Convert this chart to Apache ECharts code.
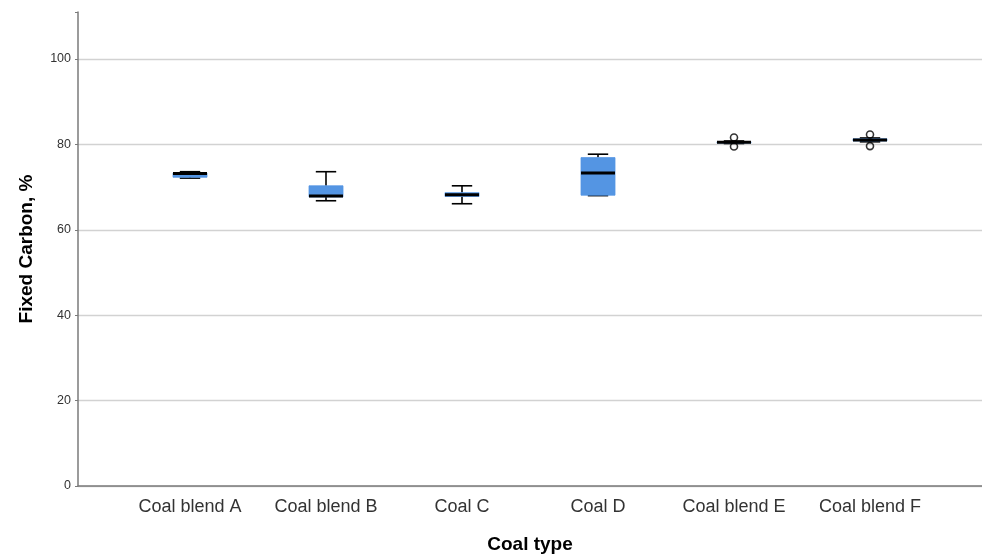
<!DOCTYPE html>
<html>
<head>
<meta charset="utf-8">
<script src="https://cdn.jsdelivr.net/npm/echarts@6/dist/echarts.min.js"></script>
<style>
html,body{margin:0;padding:0;background:#fff;}
#chart{width:982px;height:554px;}
</style>
</head>
<body>
<div id="chart"></div>
<script>
var categories = ['Coal blend A', 'Coal blend B', 'Coal C', 'Coal D', 'Coal blend E', 'Coal blend F'];
var minVals    = [72.1, 66.8, 66.1, 68.0, 80.2, 80.6];
var q1Vals     = [72.3, 67.7, 67.8, 68.1, 80.3, 80.8];
var medianVals = [73.2, 67.9, 68.2, 73.3, 80.5, 81.0];
var q3Vals     = [73.3, 70.3, 68.7, 76.9, 80.6, 81.3];
var maxVals    = [73.6, 73.6, 70.3, 77.7, 80.8, 81.5];
var outlierCats = [4, 4, 5, 5];
var outlierVals = [81.6, 79.5, 82.3, 79.6];
var yTicks = [0, 20, 40, 60, 80, 100];

var boxData = categories.map(function (c, i) {
  return [i, minVals[i], q1Vals[i], medianVals[i], q3Vals[i], maxVals[i]];
});
var outlierData = outlierVals.map(function (v, i) { return [outlierCats[i], v]; });

var FONT = '"Liberation Sans", Arial, sans-serif';

function renderBox(params, api) {
  var idx = api.value(0);
  var band = api.size([1, 0])[0];
  var boxW = band * 0.25;
  var capW = band * 0.15;
  var pMin = api.coord([idx, api.value(1)]);
  var pQ1 = api.coord([idx, api.value(2)]);
  var pMed = api.coord([idx, api.value(3)]);
  var pQ3 = api.coord([idx, api.value(4)]);
  var pMax = api.coord([idx, api.value(5)]);
  var x = pMed[0];
  var black = { stroke: '#000', lineWidth: 1.6 };
  return {
    type: 'group',
    children: [
      { type: 'line', shape: { x1: x, y1: pQ3[1], x2: x, y2: pMax[1] }, style: black },
      { type: 'line', shape: { x1: x, y1: pQ1[1], x2: x, y2: pMin[1] }, style: black },
      { type: 'line', shape: { x1: x - capW / 2, y1: pMax[1], x2: x + capW / 2, y2: pMax[1] }, style: black },
      { type: 'line', shape: { x1: x - capW / 2, y1: pMin[1], x2: x + capW / 2, y2: pMin[1] }, style: black },
      { type: 'rect', shape: { x: x - boxW / 2, y: pQ3[1], width: boxW, height: Math.max(pQ1[1] - pQ3[1], 1) },
        style: { fill: '#5495e3', stroke: '#5495e3', lineWidth: 0.8 } },
      { type: 'line', shape: { x1: x - boxW / 2, y1: pMed[1], x2: x + boxW / 2, y2: pMed[1] },
        style: { stroke: '#000', lineWidth: 3 } }
    ]
  };
}

var chart = echarts.init(document.getElementById('chart'), null, { renderer: 'canvas' });
var splitColors = yTicks.map(function () { return '#d2d2d2'; });
splitColors.push('rgba(0,0,0,0)');

chart.setOption({
  animation: false,
  backgroundColor: '#fff',
  grid: [
    { left: 78, right: 0, top: 12, bottom: 68, containLabel: false, outerBoundsMode: 'none' },
    { left: 122, right: 44, top: 12, bottom: 68, containLabel: false, outerBoundsMode: 'none' }
  ],
  xAxis: [
    {
      type: 'value', gridIndex: 0, min: 0, max: 1,
      axisLine: { show: true, lineStyle: { color: '#7a7a7a', width: 1.5 } },
      axisTick: { show: false }, axisLabel: { show: false }, splitLine: { show: false },
      name: 'Coal type', nameLocation: 'middle', nameGap: 49,
      nameTextStyle: { fontFamily: FONT, fontSize: 19, fontWeight: 'bold', color: '#000' }
    },
    {
      type: 'category', gridIndex: 1, data: categories, boundaryGap: true,
      axisLine: { show: false }, axisTick: { show: false }, splitLine: { show: false },
      axisLabel: { fontFamily: FONT, fontSize: 18, color: '#333', margin: 12 }
    }
  ],
  yAxis: [
    {
      type: 'value', gridIndex: 0, min: 0, max: 111, interval: 20,
      axisLine: { show: true, lineStyle: { color: '#7a7a7a', width: 1.5 } },
      axisTick: { show: true, length: 3, lineStyle: { color: '#7a7a7a' } },
      axisLabel: {
        fontFamily: FONT, fontSize: 12.5, color: '#333', margin: 7,
        formatter: function (v) { return yTicks.indexOf(v) >= 0 ? String(v) : ''; }
      },
      splitLine: { show: true, lineStyle: { color: splitColors, width: 1.3 } },
      name: 'Fixed Carbon, %', nameLocation: 'middle', nameGap: 42, nameRotate: 90,
      nameTextStyle: { fontFamily: FONT, fontSize: 19, fontWeight: 'bold', color: '#000' }
    },
    {
      type: 'value', gridIndex: 1, min: 0, max: 111, interval: 20,
      axisLine: { show: false }, axisTick: { show: false }, axisLabel: { show: false },
      splitLine: { show: false }
    }
  ],
  series: [
    {
      type: 'custom', xAxisIndex: 1, yAxisIndex: 1,
      renderItem: renderBox,
      encode: { x: 0, y: [1, 2, 3, 4, 5] },
      data: boxData, z: 3
    },
    {
      type: 'scatter', xAxisIndex: 1, yAxisIndex: 1,
      symbol: 'circle', symbolSize: 7,
      itemStyle: { color: 'rgba(255,255,255,0)', borderColor: '#000', borderWidth: 1.6 },
      data: outlierData, z: 4
    }
  ]
});
</script>
</body>
</html>
